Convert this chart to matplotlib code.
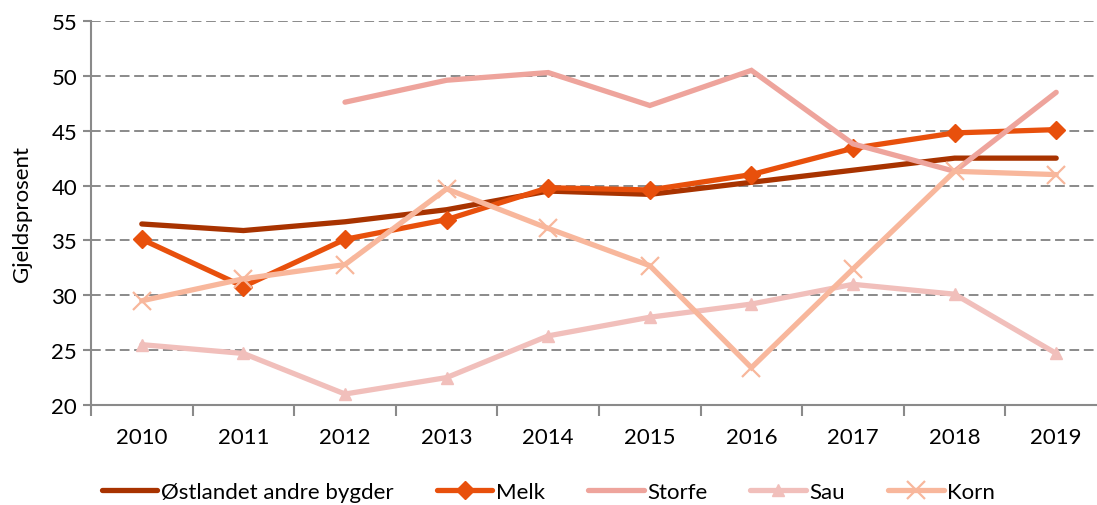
import matplotlib
matplotlib.use("Agg")
import matplotlib.pyplot as plt
import numpy as np

plt.rcParams["font.family"] = ["Lato", "DejaVu Sans"]

years = ["2010", "2011", "2012", "2013", "2014", "2015", "2016", "2017", "2018", "2019"]
ostlandet = [36.5, 35.9, 36.7, 37.8, 39.5, 39.2, 40.3, 41.4, 42.5, 42.5]
melk = [35.1, 30.8, 35.1, 36.9, 39.8, 39.6, 41.0, 43.4, 44.8, 45.1]
storfe = [np.nan, np.nan, 47.6, 49.6, 50.3, 47.3, 50.5, 43.8, 41.3, 48.5]
sau = [25.5, 24.7, 21.0, 22.5, 26.3, 28.0, 29.2, 31.0, 30.1, 24.7]
korn = [29.5, 31.5, 32.8, 39.7, 36.1, 32.7, 23.4, 32.4, 41.3, 41.0]

series = [
    ("Østlandet andre bygder", ostlandet, "#A83300", None),
    ("Melk", melk, "#E8500C", "D"),
    ("Storfe", storfe, "#EEA49C", None),
    ("Sau", sau, "#F1BFBB", "^"),
    ("Korn", korn, "#F8B79C", "x"),
]

fig = plt.figure(figsize=(10.97, 5.06), dpi=100)
ax = fig.add_axes([91 / 1097, 100 / 506, 1016 / 1097, 384 / 506])
x = np.arange(len(years))

for name, vals, color, marker in series:
    kw = dict(color=color, lw=3.8, label=name, solid_capstyle="round",
              solid_joinstyle="miter")
    if marker == "x":
        kw.update(marker="x", markersize=13, mew=1.6)
    elif marker:
        kw.update(marker=marker, markersize=9, mec=color)
    ax.plot(x, vals, **kw)

ax.set_xlim(-0.5, 9.5)
ax.set_ylim(20, 55)
ax.set_yticks(range(20, 56, 5))
ax.set_xticks(x)
ax.set_xticklabels(years)
ax.set_xticks(np.arange(-0.5, 10, 1), minor=True)
ax.tick_params(axis="x", which="major", length=0, pad=16, labelsize=16)
ax.tick_params(axis="x", which="minor", length=8, width=1.5, color="#8a8a8a")
ax.tick_params(axis="y", length=6, width=1.5, color="#8a8a8a", labelsize=16, pad=4)
ax.yaxis.grid(True, color="#8a8a8a", linestyle=(0, (5, 2.4)), lw=1.4)
ax.set_axisbelow(True)
for s in ["top", "right"]:
    ax.spines[s].set_visible(False)
for s in ["left", "bottom"]:
    ax.spines[s].set_color("#8a8a8a")
    ax.spines[s].set_linewidth(1.5)
ax.set_ylabel("Gjeldsprosent", fontsize=16, labelpad=14)

fig.legend(loc="center", bbox_to_anchor=(0.5, 13 / 506), ncol=5, frameon=False,
           fontsize=16, handlelength=2.5, handletextpad=0.15, columnspacing=1.95,
           borderpad=0)

fig.savefig("out.png", dpi=100)
